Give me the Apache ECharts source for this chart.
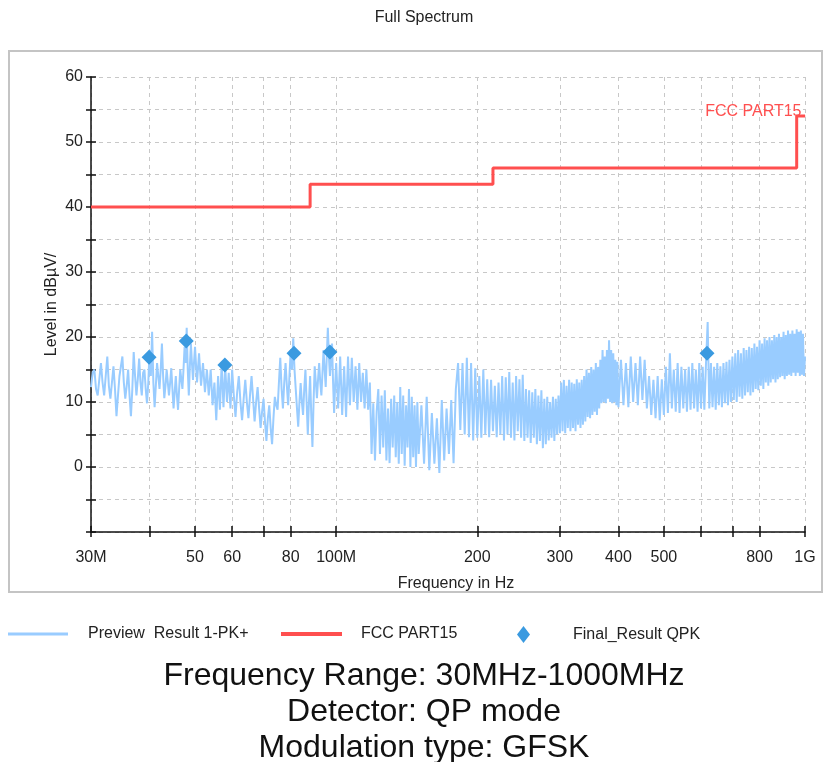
<!DOCTYPE html>
<html>
<head>
<meta charset="utf-8">
<title>Full Spectrum</title>
<script src="https://cdn.jsdelivr.net/npm/echarts@6/dist/echarts.min.js"></script>
<style>
    html, body { margin: 0; padding: 0; background: #fff; }
    #chart { width: 824px; height: 762px; }
</style>
</head>
<body>
<div id="chart"></div>
<script>
// x ticks (MHz) and the labels shown under them
var freqTicks = [30, 40, 50, 60, 70, 80, 100, 200, 300, 400, 500, 600, 700, 800, 1000];
var freqLabels = [30, 50, 60, 80, 100, 200, 300, 400, 500, 800, 1000];
var freqLabelText = ['30M', '50', '60', '80', '100M', '200', '300', '400', '500', '800', '1G'];

// Preview Result 1-PK+  [MHz, dBµV]
var previewLow = [
    [30,12.3],[30.25,14.5],[30.5,15],[30.75,12],[31,11],[31.25,13.5],[31.5,16],[31.75,13],[32,11],[32.25,14],
    [32.5,17],[32.75,12.5],[33,10.5],[33.25,13],[33.5,15.5],[33.75,12],[34,7.8],[34.25,11],[34.5,14],[34.75,15.5],
    [35,17],[35.25,13],[35.5,10.5],[35.75,12.5],[36,15],[36.25,11],[36.5,7.8],[36.75,12],[37,17.7],[37.25,14],
    [37.5,11],[37.75,13.5],[38,16.7],[38.25,13],[38.5,11],[38.75,14.5],[39,15],[39.25,12],[39.5,9.8],[39.75,13],
    [40,18],[40.25,14],[40.5,20.8],[40.75,13],[41,9.2],[41.25,12.5],[41.5,16],[41.75,14],[42,12],[42.25,15],
    [42.5,19],[42.75,14],[43,10.6],[43.25,12.5],[43.5,15],[43.75,13],[44,11],[44.25,13],[44.5,15.2],[44.75,12],
    [45,9],[45.25,11.5],[45.5,14],[45.75,11],[46,8.8],[46.25,12],[46.5,15],[46.75,13.5],[47,12],[47.25,15],
    [47.5,18.5],[47.75,16],[48,21.4],[48.25,15],[48.5,11],[48.75,15.5],[49,19],[49.25,16],[49.5,13.4],[49.75,16],
    [50,18.5],[50.5,13],[51,17.5],[51.5,12.5],[52,16],[52.5,11.5],[53,15],[53.5,11],[54,15],[54.5,9.5],
    [55,13],[55.5,7.2],[56,14],[56.5,8.8],[57,16],[57.5,9.2],[58,15.5],[58.5,10],[59,14.5],[59.5,9],
    [60,15],[60.5,11],[61,7.7],[61.5,11.5],[62,14],[62.5,10],[63,7.2],[63.5,10.5],[64,13.4],[64.5,10],
    [65,7.5],[65.5,11],[66,14],[66.5,10.5],[67,7],[67.5,10],[68,12.3],[68.5,9],[69,6],[69.5,8.5],
    [70,10.5],[70.5,7],[71,4],[71.5,7.5],[72,9.5],[72.5,6],[73,3.5],[73.5,7.5],[74,10.8],[74.5,9.5],
    [75,8.8],[75.5,13],[76,16.8],[76.5,12],[77,9],[77.5,13],[78,16],[78.5,12.5],[79,9.5],[79.5,14],
    [80,18],[80.5,15],[81,19.8],[81.5,15],[82,12],[82.5,9],[83,6.2],[83.5,10],[84,12.9],[84.5,10],
    [85,8],[85.5,12],[86,15],[86.5,10],[87,5],[87.5,10],[88,14],[88.5,8],[89,3.1],[89.5,10],
    [90,15.5],[90.5,13],[91,10.6],[91.5,13.5],[92,16],[92.5,13],[93,11],[93.5,14.5],[94,18],[94.5,15],
    [95,12.3],[95.5,17],[96,21.4],[96.5,17],[97,14],[97.5,16.5],[98,19],[98.5,13],[99,8.3],[99.5,12.5],[100,16]
];
var previewMid = [
    [101,9],[102,17],[103,8],[104,15.5],[105,7.7],[106,17],[107,9.5],[108,16.8],[109,10],[110,15.5],
    [111,8.8],[112,16],[113,10],[114,14.5],[115,9],[116,15],[117,8.8],[118,13],[119,2],[120,9.8],
    [121,1],[122,8.5],[123,12],[124,2],[125,11],[126,3],[127,11.8],[128,1],[129,9],[130,0.6],
    [131,10.5],[132,3],[133,11],[134,1.5],[135,10],[136,0.5],[137,12.3],[138,2],[139,11],[140,0.2],
    [141,9.5],[142,3],[143,12],[144,0],[145,10.8],[146,1.5],[147,9.5],[148,0],[149,10],[150,2],
    [152,9.5],[154,0.5],[156,10.8],[158,-0.5],[160,8.3],[162,0.5],[164,7.5],[166,-0.9],[168,10.3],[170,1],
    [172,9],[174,2],[176,10.3],[178,0.6],[180,12],[182,16],[184,5.7],[186,16],[188,5],[190,16.8],
    [192,4.6],[194,16],[196,4.1],[198,15.2],[200,4.5]
];
var previewHigh = [
    [202,14],[204,4.5],[206,15],[208,5],[210,13.5],[212,4.6],[214,13.4],[216,5.5],[218,12.5],[220,4.6],
    [222,13],[224,5],[226,14],[228,4.1],[230,13.8],[232,5],[234,14.6],[236,4.5],[238,13],[240,4.1],
    [242,14],[244,5.5],[246,13.5],[248,4.5],[250,14.2],[252,4],[254,12],[256,4.5],[258,11.8],[260,3.7],
    [262,11.5],[264,4.5],[266,12],[268,3.5],[270,11],[272,4],[274,11.8],[276,2.9],[278,10.5],[280,3.5],
    [282,10.8],[284,4.1],[286,10],[288,4.5],[290,10.8],[292,4],[294,10.5],[296,5],[298,11],[300,5.2],
    [302,13],[304,5.5],[306,13.4],[308,5.2],[310,12.5],[312,6],[314,13.4],[316,5.5],[318,13],[320,6],
    [322,12.8],[324,5.5],[326,13.5],[328,6.5],[330,13],[332,6],[334,13.4],[336,6.5],[338,14],[340,7],
    [342,15],[344,7.7],[346,14.5],[348,7.5],[350,15.4],[352,8],[354,15],[356,8.5],[358,16],[360,8],
    [362,15.4],[364,9],[366,16.5],[368,9.8],[370,18],[372,10],[374,17],[376,9.8],[378,18],[380,10.5],
    [382,19.5],[384,10],[386,18],[388,9.8],[390,17.5],[392,10],[394,16.5],[396,9.5],[398,16.2],[400,9.2],
    [405,16.5],[410,9.5],[415,16],[420,9.2],[425,17],[430,10],[435,16],[440,9.5],[445,17],[450,10.3],
    [455,16.5],[460,9],[465,14],[470,8],[475,13.4],[480,7.5],[485,14],[490,7.2],[495,13.5],[500,8],
    [505,15.4],[510,8.3],[515,17.5],[520,9],[525,15],[530,8.5],[535,16],[540,8.3],[545,15.4],[550,9],
    [555,15],[560,8.5],[565,15.4],[570,8.8],[575,16],[580,9],[585,15],[590,8.5],[595,16],[600,9],
    [605,15.4],[610,8.8],[615,16],[620,22.3],[625,9],[630,16],[635,9.2],[640,15.4],[645,8.8],[650,16],
    [655,9.5],[660,15.5],[665,9.2],[670,16],[675,9.8],[680,16.2],[685,9.5],[690,16.5],[695,10],[700,17],
    [705,10.3],[710,17.5],[715,10],[720,18],[725,10.8],[730,17.5],[735,10.5],[740,18.3],[745,11],[750,18],
    [755,11.5],[760,18.5],[765,11],[770,18.3],[775,11.5],[780,19],[785,12],[790,18.5],[795,11.8],[800,19.5],
    [805,12.5],[810,19],[815,12],[820,19.8],[825,13],[830,19.5],[835,12.5],[840,20],[845,13],[850,19.5],
    [855,13.5],[860,20.3],[865,13],[870,20],[875,13.5],[880,20.5],[885,13.8],[890,20],[895,14],[900,20.8],
    [905,13.5],[910,20.3],[915,14],[920,21],[925,14.2],[930,20.5],[935,14],[940,21],[945,14.5],[950,20.5],
    [955,14],[960,21.2],[965,14.5],[970,20.8],[975,14],[980,21],[985,14.2],[990,20.5],[995,14],[1000,17]
];

// FCC PART15 limit steps
var limitSteps = [[30, 40], [88, 43.5], [216, 46], [960, 54], [1000, 54]];

// Final_Result QPK
var finalQpk = [[39.9, 16.9], [47.9, 19.4], [57.9, 15.7], [81.3, 17.5], [97.0, 17.7], [618, 17.5]];

var notes = ['Frequency Range: 30MHz-1000MHz', 'Detector: QP mode', 'Modulation type: GFSK'];

var FONT = '"Liberation Sans", Arial, sans-serif';
var RED = '#ff4f4f';
var BLUE = '#99ccff';
var chart = echarts.init(document.getElementById('chart'));

var limitData = limitSteps.map(function (p, i) {
    if (i < limitSteps.length - 1) return p;
    return {
        value: p, symbol: 'circle', symbolSize: 1,
        label: { show: true, position: 'left', distance: 3, offset: [0, -4],
                 formatter: 'FCC PART15', color: RED, fontSize: 16, fontFamily: FONT }
    };
});

function freqText(v) {
    for (var i = 0; i < freqLabels.length; i++) {
        if (Math.abs(freqLabels[i] - v) < 1e-6 * v) return freqLabelText[i];
    }
    return '';
}

var gridLine = { show: true, lineStyle: { color: '#c8c8c8', type: [4, 4], width: 1 } };
var axisColor = '#111';

// title and notes as centred text
var texts = [{
    type: 'text', x: 424, y: 18,
    style: { text: 'Full Spectrum', align: 'center', verticalAlign: 'middle',
             fontSize: 16, fontFamily: FONT, fill: '#222' }
}].concat(notes.map(function (t, i) {
    return {
        type: 'text', x: 424, y: 676 + i * 36,
        style: { text: t, align: 'center', verticalAlign: 'middle',
                 fontSize: 32, fontFamily: FONT, fill: '#111' }
    };
}));

var option = {
    animation: false,
    backgroundColor: '#fff',
    textStyle: { fontFamily: FONT },
    graphic: [{
        type: 'rect', z: -10,
        shape: { x: 9, y: 51, width: 813, height: 541 },
        style: { fill: 'none', stroke: '#c4c4c4', lineWidth: 2 }
    }].concat(texts),
    legend: [
        { data: [{ name: 'Preview  Result 1-PK+', icon: 'rect' }], left: 8, top: 626, padding: 0,
          itemWidth: 60, itemHeight: 3,
          textStyle: { fontSize: 16, color: '#222', fontFamily: FONT, padding: [0, 0, 0, 15] } },
        { data: [{ name: 'FCC PART15', icon: 'rect' }], left: 281, top: 626, padding: 0,
          itemWidth: 61, itemHeight: 4,
          textStyle: { fontSize: 16, color: '#222', fontFamily: FONT, padding: [0, 0, 0, 14] } },
        { data: ['Final_Result QPK'], left: 517, top: 626, padding: 0, itemWidth: 13, itemHeight: 17,
          textStyle: { fontSize: 16, color: '#222', fontFamily: FONT, padding: [0, 0, 0, 38] } }
    ],
    grid: { left: 91, right: 19, top: 77, bottom: 230, containLabel: false },
    xAxis: [
        {
            type: 'log', logBase: 10, min: 30, max: 1000, position: 'bottom',
            name: 'Frequency in Hz', nameLocation: 'middle', nameGap: 44,
            nameTextStyle: { fontSize: 16, color: '#222', fontFamily: FONT, padding: [0, 0, 0, 16] },
            axisLine: { show: true, onZero: false, lineStyle: { color: axisColor, width: 1.5 } },
            axisTick: { show: true, customValues: freqTicks, length: 5, lineStyle: { color: axisColor, width: 1.5 } },
            axisLabel: { customValues: freqLabels, formatter: freqText, fontSize: 16, color: '#222', margin: 18, fontFamily: FONT },
            splitLine: gridLine,
            minorTick: { show: false }, minorSplitLine: { show: false }
        },
        {
            type: 'log', logBase: 10, min: 30, max: 1000, position: 'bottom',
            axisLine: { show: false, onZero: false },
            axisTick: { show: true, inside: true, customValues: freqTicks, length: 6, lineStyle: { color: axisColor, width: 1.5 } },
            axisLabel: { show: false },
            splitLine: { show: false }
        }
    ],
    yAxis: [
        {
            type: 'value', min: -10, max: 60, interval: 5, position: 'left',
            name: 'Level in dBµV/', nameLocation: 'middle', nameGap: 31, nameRotate: 90,
            nameMoveOverlap: false,
            nameTextStyle: { fontSize: 16, color: '#222', fontFamily: FONT },
            axisLine: { show: true, onZero: false, lineStyle: { color: axisColor, width: 1.5 } },
            axisTick: { show: true, length: 5, lineStyle: { color: axisColor, width: 1.5 } },
            axisLabel: {
                fontSize: 16, color: '#222', margin: 8, fontFamily: FONT,
                formatter: function (v) { return (v % 10 === 0 && v > -10) ? String(v) : ''; }
            },
            splitLine: gridLine
        },
        {
            type: 'value', min: -10, max: 60, interval: 5, position: 'left',
            axisLine: { show: false, onZero: false },
            axisTick: { show: true, inside: true, length: 5, lineStyle: { color: axisColor, width: 1.5 } },
            axisLabel: { show: false },
            splitLine: { show: false }
        }
    ],
    series: [
        {
            name: 'Preview  Result 1-PK+', type: 'line', xAxisIndex: 0, yAxisIndex: 0,
            data: previewLow.concat(previewMid, previewHigh),
            symbol: 'none', showSymbol: false, sampling: null, z: 2,
            lineStyle: { color: BLUE, width: 2 },
            itemStyle: { color: BLUE }
        },
        {
            name: 'FCC PART15', type: 'line', step: 'end', xAxisIndex: 0, yAxisIndex: 0,
            data: limitData, symbol: 'none', showSymbol: true, z: 3,
            lineStyle: { color: RED, width: 3 },
            itemStyle: { color: RED }
        },
        {
            name: 'Final_Result QPK', type: 'scatter', xAxisIndex: 0, yAxisIndex: 0,
            data: finalQpk, symbol: 'diamond', symbolSize: 15, z: 4,
            itemStyle: { color: '#3a9ae0', opacity: 1 }
        }
    ]
};
chart.setOption(option);
</script>
</body>
</html>
